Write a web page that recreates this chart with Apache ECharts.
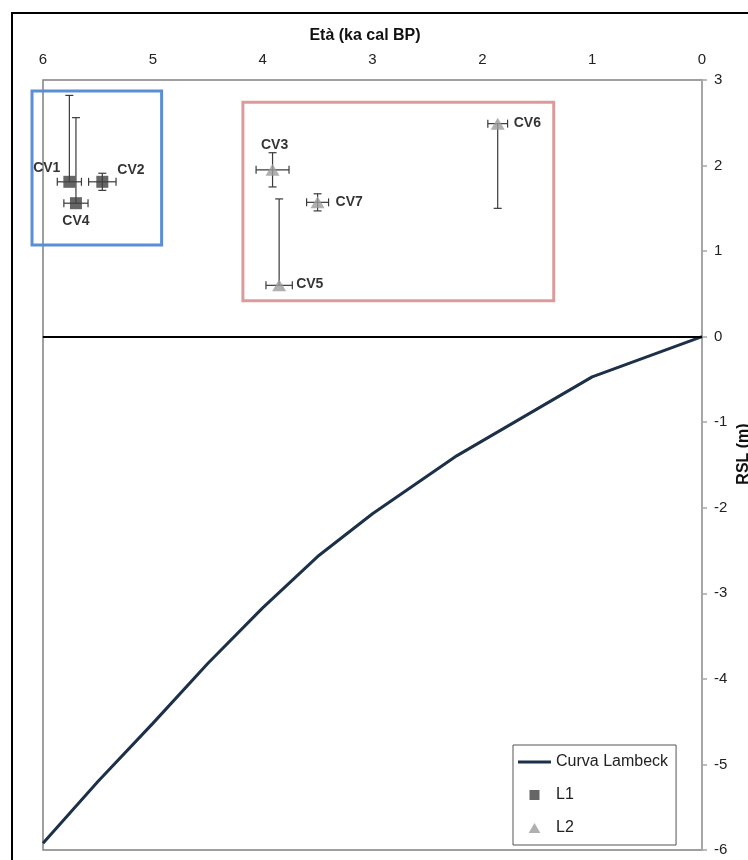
<!DOCTYPE html>
<html><head><meta charset="utf-8">
<script src="https://cdn.jsdelivr.net/npm/echarts@6/dist/echarts.min.js"></script>
<style>html,body{margin:0;padding:0;background:#fff}#c{width:748px;height:860px}</style>
</head><body><div id="c"></div>
<script>
// ---- data ----
const lambeckAge = [0, 1.0, 2.23, 3.0, 3.5, 4.0, 4.5, 5.0, 5.5, 6.0];
const lambeckRsl = [0, -0.47, -1.39, -2.07, -2.57, -3.17, -3.82, -4.52, -5.20, -5.92];

const l1Names = ['CV1', 'CV2', 'CV4'];
const l1Age = [5.76, 5.46, 5.70];
const l1Rsl = [1.81, 1.81, 1.56];
const l1AgeErr = [0.11, 0.125, 0.11];
const l1RslLow = [1.81, 1.71, 1.56];
const l1RslHigh = [2.82, 1.91, 2.56];

const l2Names = ['CV3', 'CV5', 'CV6', 'CV7'];
const l2Age = [3.91, 3.85, 1.86, 3.50];
const l2Rsl = [1.95, 0.60, 2.49, 1.57];
const l2AgeErr = [0.15, 0.12, 0.09, 0.10];
const l2RslLow = [1.75, 0.60, 1.50, 1.47];
const l2RslHigh = [2.15, 1.61, 2.49, 1.67];

const xTickValues = [0, 1, 2, 3, 4, 5, 6];
const yTickValues = [-6, -5, -4, -3, -2, -1, 0, 1, 2, 3];

// annotation boxes (in data units)
const boxes = [
  { age: [6.10, 4.92], rsl: [2.87, 1.07], color: '#5b8ed6' },
  { age: [4.18, 1.35], rsl: [2.74, 0.42], color: '#dc9b9b' }
];

// ---- label placement ----
const labelCfg = {
  CV1: { position: 'left', distance: 3, offset: [0, -14] },
  CV2: { position: 'right', distance: 9, offset: [0, -12] },
  CV4: { position: 'bottom', distance: 5, offset: [0, 0] },
  CV3: { position: 'top', distance: 12, offset: [2, 0] },
  CV5: { position: 'right', distance: 10, offset: [0, -1] },
  CV6: { position: 'right', distance: 9, offset: [0, 0] },
  CV7: { position: 'right', distance: 11, offset: [0, 0] }
};

const FONT = '"Liberation Sans", Arial, sans-serif';

function pts(names, ages, rsls) {
  return names.map((n, i) => ({
    name: n,
    value: [ages[i], rsls[i]],
    label: Object.assign({ show: true, formatter: n }, labelCfg[n])
  }));
}
const errData = [];
l1Names.forEach((n, i) => errData.push([l1Age[i], l1Rsl[i], l1Age[i] - l1AgeErr[i], l1Age[i] + l1AgeErr[i], l1RslLow[i], l1RslHigh[i]]));
l2Names.forEach((n, i) => errData.push([l2Age[i], l2Rsl[i], l2Age[i] - l2AgeErr[i], l2Age[i] + l2AgeErr[i], l2RslLow[i], l2RslHigh[i]]));

const chart = echarts.init(document.getElementById('c'), null, { renderer: 'canvas' });

function renderErr(params, api) {
  const x = api.value(0), y = api.value(1);
  const xl = api.value(2), xh = api.value(3), yl = api.value(4), yh = api.value(5);
  const c = api.coord([x, y]);
  const pxl = api.coord([xl, y]), pxh = api.coord([xh, y]);
  const pyl = api.coord([x, yl]), pyh = api.coord([x, yh]);
  const cap = 4;
  const style = { stroke: '#3a3a3a', lineWidth: 1.2 };
  const ch = [];
  const L = (x1, y1, x2, y2) => ch.push({ type: 'line', shape: { x1, y1, x2, y2 }, style });
  L(pxl[0], c[1], pxh[0], c[1]);
  L(pxl[0], c[1] - cap, pxl[0], c[1] + cap);
  L(pxh[0], c[1] - cap, pxh[0], c[1] + cap);
  if (Math.abs(pyl[1] - pyh[1]) > 0.5) {
    L(c[0], pyl[1], c[0], pyh[1]);
    if (Math.abs(pyl[1] - c[1]) > 0.5) L(c[0] - cap, pyl[1], c[0] + cap, pyl[1]);
    if (Math.abs(pyh[1] - c[1]) > 0.5) L(c[0] - cap, pyh[1], c[0] + cap, pyh[1]);
  }
  return { type: 'group', children: ch };
}

const option = {
  animation: false,
  backgroundColor: '#fff',
  textStyle: { fontFamily: FONT },
  grid: { left: 43, right: 46, top: 80, bottom: 10, show: true, borderColor: '#808080', borderWidth: 1.5, backgroundColor: 'transparent' },
  xAxis: {
    type: 'value', position: 'top', inverse: true, min: 0, max: 6, interval: 1,
    axisLine: { show: true, lineStyle: { color: '#666', width: 1.5 } },
    axisTick: { show: false },
    splitLine: { show: false },
    axisLabel: { margin: 13, color: '#222', fontSize: 15, fontFamily: FONT,
      formatter: v => xTickValues.includes(v) ? String(v) : '' }
  },
  yAxis: {
    type: 'value', position: 'right', min: -6, max: 3, interval: 1,
    axisLine: { show: true, onZero: false, lineStyle: { color: '#a6a6a6', width: 2 } },
    axisTick: { show: true, inside: false, length: 5, lineStyle: { color: '#a6a6a6', width: 1.5 } },
    splitLine: { show: false },
    axisLabel: { margin: 12, color: '#222', fontSize: 15, fontFamily: FONT,
      formatter: v => yTickValues.includes(v) ? String(v) : '' }
  },
  legend: {
    orient: 'vertical', left: 513, top: 745,
    backgroundColor: '#fff', borderColor: '#555', borderWidth: 1,
    padding: [9, 8, 9, 5],
    itemWidth: 33, itemHeight: 10, itemGap: 17,
    textStyle: { fontSize: 16, color: '#222', fontFamily: FONT },
    data: [
      { name: 'Curva Lambeck', icon: 'path://M0,0L33,0L33,3L0,3Z' },
      { name: 'L1', icon: 'path://M0,0L10,0L10,10L0,10Z' },
      { name: 'L2', icon: 'path://M5,0L10,8.5L0,8.5Z' }
    ],
    symbolKeepAspect: true
  },
  series: [
    {
      name: 'Curva Lambeck', type: 'line', symbol: 'none', z: 3,
      data: lambeckAge.map((a, i) => [a, lambeckRsl[i]]),
      lineStyle: { color: '#1c304a', width: 3 },
      itemStyle: { color: '#1c304a' },
      markLine: {
        silent: true, symbol: ['none', 'none'], label: { show: false },
        lineStyle: { color: '#000', width: 2, type: 'solid' },
        data: [{ yAxis: 0 }]
      }
    },
    {
      name: 'errors', type: 'custom', z: 4, renderItem: renderErr,
      encode: { x: 0, y: 1 }, data: errData, silent: true
    },
    {
      name: 'L1', type: 'scatter', symbol: 'rect', symbolSize: 12, z: 5,
      itemStyle: { color: '#404040' },
      label: { fontSize: 14, fontWeight: 'bold', color: '#000', fontFamily: FONT },
      data: pts(l1Names, l1Age, l1Rsl)
    },
    {
      name: 'L2', type: 'scatter', symbol: 'triangle', symbolSize: [14, 12], z: 5,
      itemStyle: { color: '#9c9c9c' },
      label: { fontSize: 14, fontWeight: 'bold', color: '#000', fontFamily: FONT },
      data: pts(l2Names, l2Age, l2Rsl)
    }
  ]
};
chart.setOption(option);

const g = [
  { type: 'rect', z: 0, shape: { x: 12, y: 13, width: 900, height: 1000 }, style: { fill: 'none', stroke: '#000', lineWidth: 2 } },
  { type: 'text', z: 10, style: { text: 'Età (ka cal BP)', x: 365, y: 36, align: 'center', verticalAlign: 'middle', font: 'bold 16px ' + FONT, fill: '#111' } },
  { type: 'text', z: 10, x: 744, y: 454, rotation: Math.PI / 2, style: { text: 'RSL (m)', x: 0, y: 0, align: 'center', verticalAlign: 'middle', font: 'bold 16px ' + FONT, fill: '#111' } }
];
boxes.forEach(b => {
  const p1 = chart.convertToPixel({ gridIndex: 0 }, [b.age[0], b.rsl[0]]);
  const p2 = chart.convertToPixel({ gridIndex: 0 }, [b.age[1], b.rsl[1]]);
  g.push({ type: 'rect', z: 2, shape: { x: Math.min(p1[0], p2[0]), y: Math.min(p1[1], p2[1]), width: Math.abs(p2[0] - p1[0]), height: Math.abs(p2[1] - p1[1]) },
    style: { fill: 'none', stroke: b.color, lineWidth: 3 } });
});
chart.setOption({ graphic: g });
</script>
</body></html>
